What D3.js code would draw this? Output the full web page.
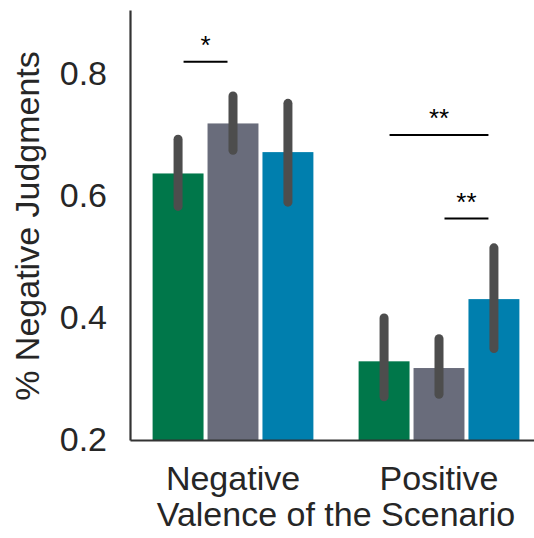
<!DOCTYPE html>
<html>

<head>
    <meta charset="utf-8" />
    <title>Negative judgments by valence</title>
    <script src="https://d3js.org/d3.v7.min.js"></script>
    <style>
        body { margin: 0; background: #fff; }
        text { font-family: "Liberation Sans", Arial, sans-serif; fill: #262626; }
    </style>
</head>

<body>
    <div class="chart"></div>

    <script>
        // data
        const categories = ["Negative", "Positive"];
        const series = ["Condition 1", "Condition 2", "Condition 3"];
        const colors = ["#00774a", "#696c7b", "#007fae"];
        const means = [
            [0.637, 0.719, 0.672],   // Negative
            [0.329, 0.318, 0.431]    // Positive
        ];
        const ciLow = [
            [0.583, 0.675, 0.590],
            [0.271, 0.275, 0.350]
        ];
        const ciHigh = [
            [0.693, 0.764, 0.752],
            [0.400, 0.366, 0.515]
        ];
        const yTicks = [0.2, 0.4, 0.6, 0.8];
        // significance brackets: group, series from/to, height, label
        const sigs = [
            { group: "Negative", from: 0, to: 1, y: 0.82, label: "*" },
            { group: "Positive", from: 0, to: 2, y: 0.70, label: "**" },
            { group: "Positive", from: 1, to: 2, y: 0.563, label: "**" }
        ];

        const W = 534, H = 538;
        const mLeft = 130, mBottom = 440, mTop = 10;
        const fs = '34px';

        const svg = d3.select('.chart')
            .append('svg')
            .attr('width', W)
            .attr('height', H);

        // category axis runs a bit past the right edge, like the original
        const x = d3.scaleBand()
            .domain(categories)
            .range([mLeft, mLeft + 412])
            .paddingInner(0.2)
            .paddingOuter(0.1);

        const xInner = d3.scaleBand()
            .domain(d3.range(series.length))
            .range([0, x.bandwidth()]);

        const y = d3.scaleLinear()
            .domain([0.2, 0.905])
            .range([mBottom, mTop]);

        const rows = [];
        categories.forEach((c, ci) => {
            series.forEach((s, si) => {
                rows.push({ cat: c, si: si, v: means[ci][si], lo: ciLow[ci][si], hi: ciHigh[ci][si] });
            });
        });

        const center = (cat, si) => x(cat) + xInner(si) + xInner.bandwidth() / 2;

        // bars
        svg.selectAll('rect.bar')
            .data(rows)
            .enter()
            .append('rect')
            .attr('class', 'bar')
            .attr('x', d => x(d.cat) + xInner(d.si) + 2)
            .attr('width', xInner.bandwidth() - 4)
            .attr('y', d => y(d.v))
            .attr('height', d => y(0.2) - y(d.v))
            .attr('fill', d => colors[d.si]);

        // error bars
        svg.selectAll('line.err')
            .data(rows)
            .enter()
            .append('line')
            .attr('class', 'err')
            .attr('x1', d => center(d.cat, d.si))
            .attr('x2', d => center(d.cat, d.si))
            .attr('y1', d => y(d.lo))
            .attr('y2', d => y(d.hi))
            .attr('stroke', '#4d4d4d')
            .attr('stroke-width', 9)
            .attr('stroke-linecap', 'round');

        // axes
        const yAxis = svg.append('g')
            .attr('transform', `translate(${mLeft},0)`)
            .call(d3.axisLeft(y).tickValues(yTicks).tickFormat(d3.format('.1f')).tickSize(0).tickPadding(23));
        yAxis.select('.domain').attr('stroke', '#333').attr('stroke-width', 2.2);
        yAxis.selectAll('text').style('font-size', fs).attr('fill', '#262626');

        const xAxis = svg.append('g')
            .attr('transform', `translate(0,${mBottom})`)
            .call(d3.axisBottom(x).tickSize(0).tickPadding(26));
        xAxis.select('.domain').attr('stroke', '#333').attr('stroke-width', 2.2);
        xAxis.selectAll('text').style('font-size', fs).attr('fill', '#262626');

        // axis titles
        svg.append('text')
            .attr('x', (x.range()[0] + x.range()[1]) / 2)
            .attr('y', 526)
            .attr('text-anchor', 'middle')
            .style('font-size', fs)
            .text('Valence of the Scenario');

        svg.append('text')
            .attr('transform', 'translate(39,226) rotate(-90)')
            .attr('text-anchor', 'middle')
            .style('font-size', fs)
            .text('% Negative Judgments');

        // significance brackets
        const sig = svg.selectAll('g.sig')
            .data(sigs)
            .enter()
            .append('g')
            .attr('class', 'sig');

        const inset = xInner.bandwidth() * 0.1;
        sig.append('line')
            .attr('x1', d => center(d.group, d.from) + inset)
            .attr('x2', d => center(d.group, d.to) - inset)
            .attr('y1', d => y(d.y))
            .attr('y2', d => y(d.y))
            .attr('stroke', '#000')
            .attr('stroke-width', 2);

        sig.append('text')
            .attr('x', d => (center(d.group, d.from) + center(d.group, d.to)) / 2)
            .attr('y', d => y(d.y) - 8)
            .attr('text-anchor', 'middle')
            .style('font-size', '26px')
            .style('fill', '#000')
            .text(d => d.label);
    </script>
</body>

</html>
